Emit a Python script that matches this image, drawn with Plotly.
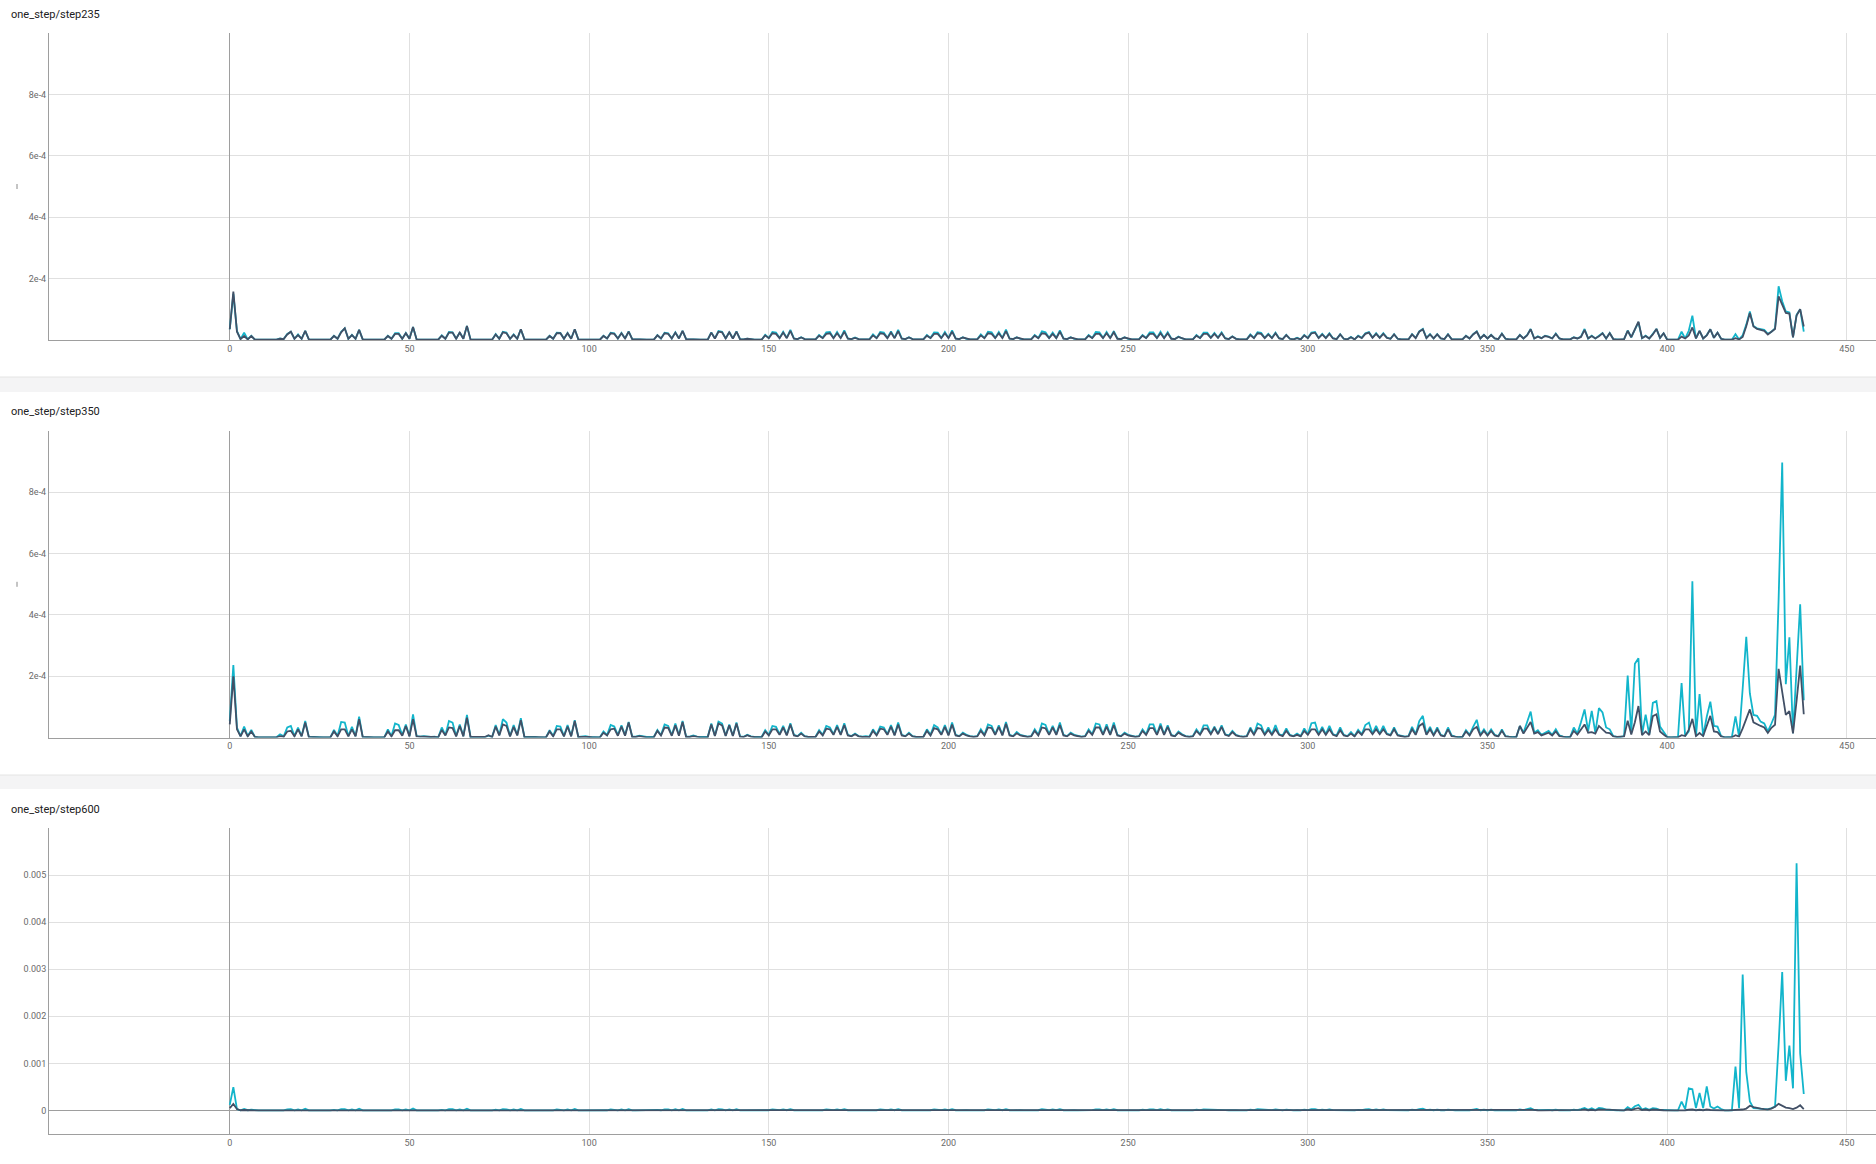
import numpy as np
import plotly.graph_objects as go

W, H = 1876, 1164

# ---------------- data (values in units of 1e-5) ----------------
steps = list(range(439))
titles = ["one_step/step235", "one_step/step350", "one_step/step600"]
x_ticks = [0, 50, 100, 150, 200, 250, 300, 350, 400, 450]

step235_cyan = [
    3.5, 15.0, 3.0, 0.3, 2.4, 0.2, 1.4, 0.1, 0.1, 0.1, 0.1, 0.1, 0.1, 0.1,
    0.5, 0.3, 2.0, 2.7, 0.4, 1.8, 0.4, 3.0, 0.2, 0.1, 0.1, 0.1, 0.1, 0.1, 0.1,
    1.4, 0.4, 2.7, 3.8, 0.4, 1.7, 0.4, 3.3, 0.2, 0.1, 0.1, 0.1, 0.1, 0.1, 0.1,
    1.4, 0.4, 2.2, 2.2, 0.4, 2.3, 0.4, 4.2, 0.2, 0.1, 0.2, 0.1, 0.1, 0.1, 0.1,
    1.5, 0.4, 2.6, 2.5, 0.4, 2.5, 0.4, 4.6, 0.2, 0.1, 0.2, 0.1, 0.1, 0.1, 0.1,
    1.9, 0.4, 2.7, 2.4, 0.4, 1.8, 0.4, 3.5, 0.2, 0.1, 0.2, 0.1, 0.1, 0.1, 0.1,
    1.4, 0.4, 2.4, 2.3, 0.4, 2.3, 0.4, 3.5, 0.2, 0.1, 0.2, 0.1, 0.1, 0.1, 0.1,
    1.4, 0.5, 2.4, 2.2, 0.5, 2.3, 0.5, 2.8, 0.3, 0.2, 0.3, 0.2, 0.1, 0.1, 0.1,
    1.6, 0.5, 2.4, 2.2, 0.5, 2.5, 0.5, 3.0, 0.3, 0.2, 0.3, 0.2, 0.1, 0.1, 0.1,
    2.5, 0.5, 2.9, 2.7, 0.5, 2.6, 0.5, 2.8, 0.3, 0.2, 0.4, 0.2, 0.1, 0.1, 0.1,
    1.7, 0.7, 2.6, 2.4, 0.7, 2.7, 0.7, 3.3, 0.5, 0.3, 0.9, 0.3, 0.2, 0.2, 0.2,
    1.6, 0.7, 2.5, 2.6, 0.7, 2.6, 0.7, 3.1, 0.5, 0.3, 0.8, 0.3, 0.2, 0.2, 0.2,
    1.8, 0.7, 2.6, 2.4, 0.7, 2.8, 0.7, 3.3, 0.5, 0.3, 0.9, 0.3, 0.2, 0.2, 0.2,
    1.6, 0.7, 2.5, 2.4, 0.7, 2.6, 0.7, 3.1, 0.5, 0.3, 0.9, 0.4, 0.2, 0.2, 0.2,
    1.8, 0.7, 2.7, 2.5, 0.7, 2.6, 0.7, 3.4, 0.5, 0.3, 0.9, 0.4, 0.2, 0.2, 0.2,
    1.6, 0.7, 2.8, 2.5, 0.7, 2.4, 0.7, 3.1, 0.5, 0.3, 0.9, 0.4, 0.2, 0.2, 0.2,
    1.6, 0.7, 2.6, 2.5, 0.7, 2.6, 0.7, 2.9, 0.5, 0.3, 0.9, 0.4, 0.2, 0.2, 0.2,
    1.6, 0.7, 2.5, 2.5, 0.7, 2.7, 0.7, 2.5, 0.5, 0.3, 1.1, 0.5, 0.2, 0.2, 0.2,
    1.6, 0.7, 2.4, 2.4, 0.8, 2.3, 0.8, 2.5, 0.6, 0.3, 1.2, 0.4, 0.2, 0.2, 0.2,
    1.8, 0.7, 2.5, 2.3, 0.7, 2.0, 0.7, 2.4, 0.6, 0.3, 1.7, 0.4, 0.2, 0.7, 0.2,
    1.6, 0.7, 2.4, 2.6, 0.7, 2.0, 0.7, 2.2, 0.6, 0.3, 1.9, 0.4, 0.2, 1.0, 0.2,
    1.4, 0.7, 2.2, 2.6, 0.8, 2.2, 0.8, 2.2, 0.8, 0.4, 1.9, 0.4, 0.2, 0.2, 0.2,
    1.9, 0.7, 2.8, 3.6, 0.7, 1.9, 0.5, 1.9, 0.5, 0.3, 1.9, 0.3, 0.2, 0.1, 0.2,
    1.4, 0.5, 1.9, 2.8, 0.5, 1.7, 0.5, 1.7, 0.5, 0.3, 2.1, 0.4, 0.2, 0.1, 0.2,
    1.7, 0.5, 1.6, 3.6, 0.5, 1.2, 0.6, 1.4, 1.1, 0.5, 2.1, 0.5, 0.2, 0.1, 0.2,
    0.9, 0.5, 1.1, 3.6, 0.5, 1.4, 0.5, 1.3, 2.3, 0.5, 2.3, 0.3, 0.1, 0.1, 0.3,
    3.1, 0.9, 3.5, 5.8, 0.6, 1.4, 0.5, 1.9, 3.6, 0.7, 2.2, 0.1, 0.1, 0.1, 0.1,
    2.7, 0.5, 3.0, 7.9, 0.5, 3.0, 0.5, 1.6, 3.5, 0.7, 2.4, 0.4, 0.1, 0.1, 0.1,
    1.9, 0.2, 1.5, 5.0, 9.3, 4.6, 3.8, 3.5, 3.3, 2.0, 2.7, 3.8, 17.5, 12.6, 9.3,
    9.0, 0.9, 8.2, 10.0, 2.7,
]

step235_dark = [
    3.5, 15.8, 2.7, 0.3, 1.3, 0.2, 1.3, 0.1, 0.1, 0.1, 0.1, 0.1, 0.1, 0.1,
    0.4, 0.3, 1.8, 2.7, 0.4, 1.6, 0.4, 3.0, 0.2, 0.1, 0.1, 0.1, 0.1, 0.1, 0.1,
    1.3, 0.4, 2.5, 3.8, 0.4, 1.6, 0.4, 3.3, 0.2, 0.1, 0.1, 0.1, 0.1, 0.1, 0.1,
    1.3, 0.4, 2.0, 2.0, 0.4, 2.2, 0.4, 4.2, 0.2, 0.1, 0.2, 0.1, 0.1, 0.1, 0.1,
    1.4, 0.4, 2.4, 2.4, 0.4, 2.4, 0.4, 4.6, 0.2, 0.1, 0.2, 0.1, 0.1, 0.1, 0.1,
    1.8, 0.4, 2.5, 2.2, 0.4, 1.7, 0.4, 3.5, 0.2, 0.1, 0.2, 0.1, 0.1, 0.1, 0.1,
    1.3, 0.4, 2.2, 2.2, 0.4, 2.2, 0.4, 3.5, 0.2, 0.1, 0.2, 0.1, 0.1, 0.1, 0.1,
    1.3, 0.5, 2.2, 2.0, 0.5, 2.2, 0.5, 2.7, 0.3, 0.2, 0.3, 0.2, 0.1, 0.1, 0.1,
    1.5, 0.5, 2.2, 2.0, 0.5, 2.4, 0.5, 3.0, 0.3, 0.2, 0.3, 0.2, 0.1, 0.1, 0.1,
    2.4, 0.5, 2.7, 2.5, 0.5, 2.5, 0.5, 2.7, 0.3, 0.2, 0.4, 0.2, 0.1, 0.1, 0.1,
    1.5, 0.6, 2.2, 2.0, 0.6, 2.4, 0.6, 3.0, 0.4, 0.3, 0.8, 0.3, 0.2, 0.2, 0.2,
    1.4, 0.6, 2.0, 2.2, 0.6, 2.2, 0.6, 2.7, 0.4, 0.3, 0.7, 0.3, 0.2, 0.2, 0.2,
    1.5, 0.6, 2.2, 2.0, 0.6, 2.4, 0.6, 2.9, 0.4, 0.3, 0.8, 0.3, 0.2, 0.2, 0.2,
    1.4, 0.6, 2.0, 2.0, 0.6, 2.2, 0.6, 2.7, 0.4, 0.3, 0.8, 0.4, 0.2, 0.2, 0.2,
    1.5, 0.6, 2.2, 2.0, 0.6, 2.2, 0.6, 2.9, 0.4, 0.3, 0.8, 0.4, 0.2, 0.2, 0.2,
    1.4, 0.6, 2.2, 2.0, 0.6, 2.0, 0.6, 2.7, 0.4, 0.3, 0.8, 0.4, 0.2, 0.2, 0.2,
    1.4, 0.6, 2.0, 2.0, 0.6, 2.2, 0.6, 2.5, 0.4, 0.3, 0.8, 0.4, 0.2, 0.2, 0.2,
    1.4, 0.6, 2.0, 2.0, 0.6, 2.2, 0.6, 2.2, 0.4, 0.3, 1.0, 0.5, 0.2, 0.2, 0.2,
    1.4, 0.6, 2.0, 2.0, 0.7, 2.0, 0.7, 2.2, 0.5, 0.3, 1.1, 0.4, 0.2, 0.2, 0.2,
    1.6, 0.6, 2.2, 2.0, 0.6, 1.8, 0.6, 2.2, 0.5, 0.3, 1.6, 0.4, 0.2, 0.6, 0.2,
    1.5, 0.6, 2.2, 2.4, 0.6, 1.8, 0.6, 2.0, 0.5, 0.3, 1.8, 0.4, 0.2, 0.9, 0.2,
    1.3, 0.6, 2.0, 2.4, 0.7, 2.0, 0.7, 2.0, 0.7, 0.4, 1.8, 0.4, 0.2, 0.2, 0.2,
    1.8, 0.6, 2.7, 3.5, 0.6, 1.8, 0.5, 1.8, 0.5, 0.3, 1.8, 0.3, 0.2, 0.1, 0.2,
    1.3, 0.5, 1.8, 2.7, 0.5, 1.6, 0.5, 1.6, 0.5, 0.3, 2.0, 0.4, 0.2, 0.1, 0.2,
    1.6, 0.5, 1.5, 3.5, 0.5, 1.1, 0.6, 1.3, 1.0, 0.5, 2.0, 0.5, 0.2, 0.1, 0.2,
    0.8, 0.5, 1.0, 3.3, 0.5, 1.3, 0.5, 1.2, 2.2, 0.5, 2.2, 0.3, 0.1, 0.1, 0.3,
    3.0, 0.9, 3.5, 6.0, 0.6, 1.3, 0.5, 1.8, 3.6, 0.7, 2.2, 0.1, 0.1, 0.1, 0.1,
    1.1, 0.5, 1.5, 4.1, 0.5, 3.0, 0.5, 1.5, 3.5, 0.7, 2.4, 0.4, 0.1, 0.1, 0.1,
    0.6, 0.2, 1.0, 4.5, 8.8, 4.4, 3.6, 3.3, 3.0, 1.8, 2.6, 3.6, 14.2, 11.5, 8.8,
    8.6, 0.9, 8.0, 10.0, 4.4,
]

step350_cyan = [
    5.4, 23.7, 3.3, 0.5, 3.6, 0.5, 2.5, 0.2, 0.1, 0.1, 0.1, 0.1, 0.1, 0.1,
    1.1, 0.4, 3.3, 3.8, 0.5, 3.3, 0.5, 5.4, 0.3, 0.2, 0.2, 0.1, 0.1, 0.1, 0.1,
    2.5, 0.5, 5.1, 4.9, 0.5, 3.5, 0.5, 6.8, 0.2, 0.1, 0.2, 0.1, 0.1, 0.1, 0.1,
    2.7, 0.5, 4.6, 4.1, 0.8, 4.3, 0.5, 7.6, 0.5, 0.3, 0.5, 0.3, 0.2, 0.3, 0.1,
    3.3, 0.8, 5.4, 4.9, 0.5, 4.3, 0.5, 7.4, 0.2, 0.2, 0.4, 0.3, 0.2, 0.6, 0.2,
    4.1, 0.8, 6.0, 4.9, 0.5, 4.1, 0.8, 6.3, 0.2, 0.2, 0.4, 0.2, 0.1, 0.2, 0.1,
    2.4, 0.5, 3.8, 3.6, 0.5, 4.1, 0.5, 5.7, 0.2, 0.3, 0.5, 0.2, 0.1, 0.2, 0.1,
    2.0, 0.8, 4.1, 3.6, 0.8, 4.0, 0.8, 5.1, 0.3, 0.3, 0.6, 0.3, 0.2, 0.2, 0.2,
    2.5, 0.8, 4.3, 3.8, 0.8, 4.6, 0.8, 5.4, 0.3, 0.3, 0.7, 0.3, 0.2, 0.2, 0.2,
    4.6, 0.6, 5.2, 4.6, 0.6, 4.3, 0.6, 4.9, 0.4, 0.3, 0.9, 0.4, 0.2, 0.3, 0.2,
    2.4, 0.9, 3.8, 3.5, 1.1, 3.8, 0.9, 4.7, 0.9, 0.5, 1.6, 0.5, 0.2, 0.2, 0.3,
    2.4, 0.9, 3.8, 3.3, 1.1, 4.1, 1.1, 4.7, 0.9, 0.5, 1.3, 0.5, 0.3, 0.5, 0.3,
    2.7, 0.9, 3.6, 3.3, 1.1, 4.1, 0.9, 4.9, 0.9, 0.5, 1.6, 0.5, 0.2, 0.2, 0.3,
    2.7, 0.9, 4.1, 3.3, 1.1, 4.1, 0.9, 4.9, 0.9, 0.5, 1.6, 0.9, 0.5, 0.3, 0.5,
    2.7, 0.9, 4.3, 3.8, 1.1, 4.0, 0.9, 5.1, 0.9, 0.5, 1.8, 0.9, 0.5, 0.3, 0.5,
    2.7, 0.9, 4.6, 4.1, 1.1, 3.8, 1.1, 4.9, 0.9, 0.5, 1.6, 0.9, 0.5, 0.3, 0.5,
    2.7, 1.1, 4.6, 4.3, 1.1, 4.3, 1.1, 4.9, 0.9, 0.5, 1.6, 0.9, 0.5, 0.3, 0.5,
    2.7, 1.1, 4.3, 4.3, 1.1, 4.6, 1.1, 4.0, 0.9, 0.5, 2.0, 1.1, 0.5, 0.3, 0.5,
    2.7, 1.1, 4.0, 4.0, 1.3, 3.6, 1.3, 4.0, 1.1, 0.7, 2.2, 0.9, 0.5, 0.3, 0.5,
    3.3, 1.1, 4.6, 4.0, 1.1, 3.3, 1.1, 4.1, 1.1, 0.7, 3.0, 0.9, 0.5, 1.3, 0.5,
    3.0, 1.1, 4.7, 4.9, 1.1, 3.5, 1.1, 3.8, 1.1, 0.7, 3.3, 0.9, 0.5, 1.8, 0.5,
    2.5, 1.1, 4.1, 4.9, 1.3, 3.8, 1.3, 3.8, 1.3, 0.9, 3.3, 0.9, 0.5, 0.3, 0.5,
    3.5, 1.1, 5.4, 7.1, 1.1, 3.5, 0.9, 3.3, 0.9, 0.5, 3.3, 0.7, 0.3, 0.2, 0.2,
    2.4, 0.9, 3.5, 5.8, 0.9, 2.7, 0.9, 2.7, 0.9, 0.5, 2.7, 0.5, 0.3, 0.2, 0.2,
    3.8, 1.6, 5.0, 8.5, 1.6, 2.4, 0.9, 1.5, 2.2, 0.9, 2.7, 0.7, 0.3, 0.2, 0.2,
    3.3, 1.3, 5.0, 9.2, 2.2, 8.7, 1.6, 9.6, 8.2, 3.3, 2.7, 0.5, 0.2, 0.2, 0.5,
    20.2, 1.5, 24.1, 25.9, 1.0, 7.5, 1.0, 11.3, 11.9, 3.6, 2.0, 0.2, 0.1, 0.1, 0.2,
    17.8, 0.5, 2.0, 51.0, 0.5, 14.2, 0.5, 6.8, 11.7, 3.8, 3.6, 0.5, 0.1, 0.1, 0.2,
    6.9, 0.3, 16.0, 32.9, 14.4, 7.4, 7.1, 5.2, 4.6, 2.0, 4.6, 7.4, 45.0, 89.7, 17.4,
    32.7, 1.4, 22.0, 43.5, 12.2,
]

step350_dark = [
    4.3, 20.0, 2.7, 0.4, 2.7, 0.4, 2.0, 0.2, 0.1, 0.1, 0.1, 0.1, 0.1, 0.1,
    0.5, 0.3, 2.0, 2.2, 0.4, 2.7, 0.4, 4.9, 0.2, 0.1, 0.1, 0.1, 0.1, 0.1, 0.1,
    2.0, 0.4, 2.7, 2.7, 0.4, 2.7, 0.4, 6.0, 0.2, 0.1, 0.1, 0.1, 0.1, 0.1, 0.1,
    2.0, 0.4, 2.4, 2.4, 0.6, 3.8, 0.4, 6.0, 0.4, 0.3, 0.4, 0.2, 0.2, 0.2, 0.1,
    2.5, 0.7, 3.3, 3.1, 0.4, 3.8, 0.4, 6.5, 0.2, 0.2, 0.3, 0.3, 0.2, 0.8, 0.2,
    3.6, 0.7, 4.3, 3.8, 0.4, 3.5, 0.7, 5.7, 0.2, 0.2, 0.3, 0.2, 0.1, 0.2, 0.1,
    2.0, 0.4, 2.7, 2.7, 0.4, 3.6, 0.4, 5.4, 0.2, 0.2, 0.4, 0.2, 0.1, 0.1, 0.1,
    1.6, 0.7, 2.7, 2.9, 0.6, 3.6, 0.6, 4.9, 0.2, 0.2, 0.5, 0.2, 0.1, 0.1, 0.1,
    2.2, 0.7, 3.3, 3.2, 0.6, 4.0, 0.6, 5.1, 0.2, 0.2, 0.5, 0.2, 0.1, 0.1, 0.1,
    4.3, 0.5, 4.6, 4.0, 0.5, 4.0, 0.5, 4.6, 0.3, 0.2, 0.8, 0.3, 0.2, 0.2, 0.1,
    2.0, 0.7, 2.7, 2.7, 0.9, 3.3, 0.7, 4.3, 0.7, 0.4, 1.3, 0.4, 0.2, 0.2, 0.2,
    2.0, 0.7, 2.9, 2.7, 0.9, 3.5, 0.9, 4.1, 0.7, 0.4, 1.1, 0.4, 0.2, 0.3, 0.2,
    2.2, 0.7, 2.9, 2.7, 0.9, 3.6, 0.7, 4.3, 0.7, 0.4, 1.3, 0.4, 0.2, 0.2, 0.2,
    2.2, 0.7, 3.1, 2.7, 0.9, 3.5, 0.7, 4.3, 0.7, 0.4, 1.3, 0.7, 0.4, 0.2, 0.4,
    2.2, 0.7, 3.3, 3.1, 0.9, 3.5, 0.7, 4.5, 0.7, 0.4, 1.4, 0.7, 0.4, 0.2, 0.4,
    2.2, 0.7, 3.3, 3.0, 0.9, 3.3, 0.9, 4.1, 0.7, 0.4, 1.3, 0.7, 0.4, 0.2, 0.4,
    2.2, 0.9, 3.3, 3.3, 0.9, 3.6, 0.9, 4.1, 0.7, 0.4, 1.3, 0.7, 0.4, 0.2, 0.4,
    2.2, 0.9, 3.1, 3.1, 0.9, 3.8, 0.9, 3.5, 0.7, 0.4, 1.6, 0.9, 0.4, 0.2, 0.4,
    2.2, 0.9, 2.9, 2.9, 1.1, 3.1, 1.1, 3.5, 0.9, 0.5, 1.8, 0.7, 0.4, 0.2, 0.4,
    2.7, 0.9, 3.1, 2.9, 0.9, 2.5, 0.9, 2.7, 0.9, 0.5, 2.2, 0.7, 0.4, 0.9, 0.4,
    2.2, 0.9, 2.7, 2.7, 0.9, 2.7, 0.9, 2.7, 0.9, 0.5, 2.4, 0.7, 0.4, 1.3, 0.4,
    2.0, 0.9, 2.7, 2.7, 1.1, 2.7, 1.1, 2.7, 1.1, 0.7, 2.7, 0.7, 0.4, 0.2, 0.4,
    2.7, 0.9, 3.8, 4.6, 0.9, 2.7, 0.7, 2.7, 0.7, 0.4, 2.7, 0.5, 0.2, 0.1, 0.2,
    2.0, 0.7, 2.7, 3.5, 0.7, 2.2, 0.7, 2.2, 0.7, 0.4, 2.2, 0.4, 0.2, 0.1, 0.2,
    3.8, 1.3, 3.2, 5.1, 1.3, 1.8, 0.7, 1.2, 1.6, 0.7, 2.0, 0.5, 0.2, 0.1, 0.2,
    2.2, 1.0, 2.7, 4.3, 1.6, 1.8, 1.3, 3.8, 2.7, 1.6, 1.5, 0.4, 0.2, 0.2, 0.4,
    5.5, 1.0, 5.0, 10.3, 0.8, 2.0, 0.8, 7.0, 7.6, 2.0, 1.0, 0.1, 0.1, 0.1, 0.1,
    0.8, 0.5, 2.5, 6.1, 0.5, 1.5, 0.5, 3.5, 7.1, 2.0, 1.8, 0.4, 0.1, 0.1, 0.1,
    0.8, 0.3, 3.0, 6.0, 9.2, 5.0, 4.3, 3.8, 3.3, 1.5, 3.2, 4.2, 22.4, 15.0, 7.4,
    8.6, 1.4, 12.0, 23.5, 7.6,
]

step600_cyan = [
    12.0, 49.5, 3.0, 0.5, 3.0, 0.5, 1.5, 0.3, 0.2, 0.2, 0.2, 0.2, 0.2, 0.2,
    1.0, 0.3, 2.5, 3.0, 0.3, 2.0, 0.3, 3.5, 0.2, 0.1, 0.3, 0.1, 0.1, 0.1, 0.1,
    1.2, 0.3, 2.8, 2.6, 0.3, 2.2, 0.3, 3.8, 0.2, 0.1, 0.3, 0.1, 0.1, 0.1, 0.1,
    1.1, 0.3, 2.4, 2.2, 0.3, 2.4, 0.3, 4.0, 0.2, 0.1, 0.3, 0.1, 0.1, 0.1, 0.1,
    1.3, 0.3, 2.9, 2.6, 0.3, 2.3, 0.3, 3.6, 0.2, 0.1, 0.3, 0.1, 0.1, 0.2, 0.1,
    1.6, 0.3, 3.0, 2.5, 0.3, 2.0, 0.3, 3.2, 0.2, 0.1, 0.3, 0.1, 0.1, 0.1, 0.1,
    1.0, 0.3, 2.2, 2.0, 0.3, 2.2, 0.3, 3.0, 0.2, 0.1, 0.3, 0.1, 0.1, 0.1, 0.1,
    1.0, 0.4, 2.3, 2.0, 0.4, 2.2, 0.4, 2.8, 0.2, 0.1, 0.4, 0.2, 0.1, 0.1, 0.1,
    1.2, 0.4, 2.4, 2.1, 0.4, 2.5, 0.4, 3.0, 0.2, 0.1, 0.4, 0.2, 0.1, 0.1, 0.1,
    2.2, 0.4, 2.7, 2.4, 0.4, 2.3, 0.4, 2.6, 0.2, 0.2, 0.5, 0.2, 0.1, 0.1, 0.1,
    1.3, 0.5, 2.1, 1.9, 0.6, 2.1, 0.5, 2.6, 0.5, 0.3, 0.9, 0.3, 0.1, 0.1, 0.2,
    1.3, 0.5, 2.1, 1.8, 0.6, 2.3, 0.6, 2.6, 0.5, 0.3, 0.7, 0.3, 0.2, 0.3, 0.2,
    1.5, 0.5, 2.0, 1.8, 0.6, 2.3, 0.5, 2.7, 0.5, 0.3, 0.9, 0.3, 0.1, 0.1, 0.2,
    1.5, 0.5, 2.3, 1.8, 0.6, 2.3, 0.5, 2.7, 0.5, 0.3, 0.9, 0.5, 0.3, 0.2, 0.3,
    1.5, 0.5, 2.4, 2.1, 0.6, 2.2, 0.5, 2.8, 0.5, 0.3, 1.0, 0.5, 0.3, 0.2, 0.3,
    1.5, 0.5, 2.5, 2.3, 0.6, 2.1, 0.6, 2.7, 0.5, 0.3, 0.9, 0.5, 0.3, 0.2, 0.3,
    1.5, 0.6, 2.5, 2.4, 0.6, 2.4, 0.6, 2.7, 0.5, 0.3, 0.9, 0.5, 0.3, 0.2, 0.3,
    1.5, 0.6, 2.4, 2.4, 0.6, 2.5, 0.6, 2.2, 0.5, 0.3, 1.1, 0.6, 0.3, 0.2, 0.3,
    1.5, 0.6, 2.2, 2.2, 0.7, 2.0, 0.7, 2.2, 0.6, 0.4, 1.2, 0.5, 0.3, 0.2, 0.3,
    1.8, 0.6, 2.5, 2.2, 0.6, 1.8, 0.6, 2.3, 0.6, 0.4, 1.7, 0.5, 0.3, 0.7, 0.3,
    1.7, 0.6, 2.6, 2.7, 0.6, 1.9, 0.6, 2.1, 0.6, 0.4, 1.8, 0.5, 0.3, 1.0, 0.3,
    1.4, 0.6, 2.3, 2.7, 0.7, 2.1, 0.7, 2.1, 0.7, 0.5, 1.8, 0.5, 0.3, 0.2, 0.3,
    1.9, 0.6, 3.0, 3.9, 0.6, 1.9, 0.5, 1.8, 0.5, 0.3, 1.8, 0.4, 0.2, 0.1, 0.1,
    1.3, 0.5, 1.9, 3.2, 0.5, 1.5, 0.5, 1.5, 0.5, 0.3, 1.5, 0.3, 0.2, 0.1, 0.1,
    2.1, 0.9, 2.8, 4.7, 0.9, 1.3, 0.5, 0.8, 1.2, 0.5, 1.5, 0.4, 0.2, 0.1, 0.1,
    1.8, 0.7, 2.8, 5.1, 1.2, 4.8, 0.9, 5.3, 4.5, 1.8, 1.5, 0.3, 0.1, 0.1, 0.3,
    7.2, 2.0, 9.0, 12.0, 2.0, 5.0, 1.5, 5.0, 4.0, 1.0, 1.0, 0.3, 0.3, 0.3, 0.3,
    19.0, 2.8, 47.0, 45.0, 5.0, 37.0, 5.0, 51.0, 8.5, 4.0, 8.5, 3.0, 0.2, 0.2, 0.2,
    93.0, 5.0, 289.0, 82.0, 19.0, 5.0, 4.5, 4.0, 3.0, 2.5, 5.0, 8.0, 140.0, 294.0, 63.0,
    138.0, 47.0, 525.0, 121.0, 35.0,
]

step600_dark = [
    5.0, 14.0, 3.0, 0.5, 1.0, 0.3, 0.5, 0.2, 0.1, 0.1, 0.1, 0.1, 0.1, 0.1,
    0.4, 0.2, 1.0, 1.2, 0.2, 0.8, 0.2, 1.5, 0.1, 0.1, 0.2, 0.1, 0.1, 0.1, 0.1,
    0.5, 0.2, 1.1, 1.0, 0.2, 0.9, 0.2, 1.6, 0.1, 0.1, 0.2, 0.1, 0.1, 0.1, 0.1,
    0.5, 0.2, 1.0, 0.9, 0.2, 1.0, 0.2, 1.7, 0.1, 0.1, 0.2, 0.1, 0.1, 0.1, 0.1,
    0.5, 0.2, 1.2, 1.1, 0.2, 1.0, 0.2, 1.5, 0.1, 0.1, 0.2, 0.1, 0.1, 0.1, 0.1,
    0.7, 0.2, 1.2, 1.0, 0.2, 0.8, 0.2, 1.3, 0.1, 0.1, 0.2, 0.1, 0.1, 0.1, 0.1,
    0.4, 0.2, 0.9, 0.8, 0.2, 0.9, 0.2, 1.2, 0.1, 0.1, 0.2, 0.1, 0.1, 0.1, 0.1,
    0.4, 0.2, 0.9, 0.8, 0.2, 0.9, 0.2, 1.1, 0.1, 0.1, 0.2, 0.1, 0.1, 0.1, 0.1,
    0.5, 0.2, 1.0, 0.9, 0.2, 1.0, 0.2, 1.2, 0.1, 0.1, 0.2, 0.1, 0.1, 0.1, 0.1,
    0.9, 0.2, 1.1, 1.0, 0.2, 0.9, 0.2, 1.1, 0.1, 0.1, 0.2, 0.1, 0.1, 0.1, 0.1,
    0.5, 0.2, 0.9, 0.8, 0.2, 0.9, 0.2, 1.1, 0.2, 0.1, 0.4, 0.1, 0.1, 0.1, 0.1,
    0.5, 0.2, 0.9, 0.8, 0.2, 1.0, 0.2, 1.1, 0.2, 0.1, 0.3, 0.1, 0.1, 0.1, 0.1,
    0.6, 0.2, 0.8, 0.8, 0.2, 1.0, 0.2, 1.1, 0.2, 0.1, 0.4, 0.1, 0.1, 0.1, 0.1,
    0.6, 0.2, 0.9, 0.8, 0.2, 1.0, 0.2, 1.1, 0.2, 0.1, 0.4, 0.2, 0.1, 0.1, 0.1,
    0.6, 0.2, 1.0, 0.9, 0.2, 0.9, 0.2, 1.2, 0.2, 0.1, 0.4, 0.2, 0.1, 0.1, 0.1,
    0.6, 0.2, 1.0, 0.9, 0.2, 0.9, 0.2, 1.1, 0.2, 0.1, 0.4, 0.2, 0.1, 0.1, 0.1,
    0.6, 0.2, 1.0, 1.0, 0.2, 1.0, 0.2, 1.1, 0.2, 0.1, 0.4, 0.2, 0.1, 0.1, 0.1,
    0.6, 0.2, 1.0, 1.0, 0.2, 1.0, 0.2, 0.9, 0.2, 0.1, 0.5, 0.2, 0.1, 0.1, 0.1,
    0.6, 0.2, 0.9, 0.9, 0.3, 0.8, 0.3, 0.9, 0.2, 0.1, 0.5, 0.2, 0.1, 0.1, 0.1,
    0.7, 0.2, 1.0, 0.9, 0.2, 0.7, 0.2, 0.9, 0.2, 0.1, 0.7, 0.2, 0.1, 0.3, 0.1,
    0.7, 0.2, 1.0, 1.1, 0.2, 0.8, 0.2, 0.8, 0.2, 0.1, 0.7, 0.2, 0.1, 0.4, 0.1,
    0.6, 0.2, 0.9, 1.1, 0.3, 0.8, 0.3, 0.8, 0.3, 0.2, 0.7, 0.2, 0.1, 0.1, 0.1,
    0.8, 0.2, 1.2, 1.6, 0.2, 0.8, 0.2, 0.7, 0.2, 0.1, 0.7, 0.2, 0.1, 0.1, 0.1,
    0.5, 0.2, 0.8, 1.3, 0.2, 0.6, 0.2, 0.6, 0.2, 0.1, 0.6, 0.1, 0.1, 0.1, 0.1,
    0.9, 0.4, 1.1, 1.9, 0.4, 0.5, 0.2, 0.3, 0.5, 0.2, 0.6, 0.2, 0.1, 0.1, 0.1,
    0.7, 0.3, 1.1, 2.1, 0.5, 1.5, 0.4, 2.2, 1.8, 0.7, 0.6, 0.1, 0.1, 0.1, 0.1,
    2.5, 1.0, 3.5, 5.0, 1.0, 2.0, 0.5, 2.0, 1.5, 0.5, 0.5, 0.2, 0.1, 0.1, 0.2,
    1.0, 0.5, 1.5, 2.0, 0.5, 1.5, 0.5, 2.0, 1.0, 0.5, 1.5, 0.5, 0.1, 0.1, 0.2,
    0.5, 0.5, 2.0, 4.0, 10.0, 7.0, 5.0, 4.0, 3.0, 2.5, 4.0, 8.0, 14.0, 10.0, 6.0,
    5.0, 3.0, 6.0, 11.0, 3.0,
]

y_ticks_small = [0, 2e-4, 4e-4, 6e-4, 8e-4, 1e-3]
y_labels_small = ["", "2e-4", "4e-4", "6e-4", "8e-4", ""]
y_ticks_big = [0, 0.001, 0.002, 0.003, 0.004, 0.005, 0.006]
y_labels_big = ["0", "0.001", "0.002", "0.003", "0.004", "0.005", ""]

CYAN = "#12b5cb"
DARK = "#425066"
SCALE = 1e-5

series = [
    (step235_cyan, step235_dark),
    (step350_cyan, step350_dark),
    (step600_cyan, step600_dark),
]
for c, d in series:
    assert len(c) == len(steps), len(c)
    assert len(d) == len(steps), len(d)

# ---------------- layout geometry (pixels) ----------------
tops = [33, 431, 828]
bottoms = [340, 737.6, 1134]
title_y = [14.5, 411, 809.5]
yranges = [[0, 1e-3], [0, 1e-3], [-0.0005, 0.006]]
x_left_px = 49
bands = [(377, 392), (775, 789)]

fig = go.Figure()
for i, (c, d) in enumerate(series, start=1):
    xa = "x" if i == 1 else f"x{i}"
    ya = "y" if i == 1 else f"y{i}"
    fig.add_trace(go.Scatter(x=steps, y=np.array(c) * SCALE, mode="lines",
                             line=dict(color=CYAN, width=1.8),
                             xaxis=xa, yaxis=ya, hoverinfo="skip"))
    fig.add_trace(go.Scatter(x=steps, y=np.array(d) * SCALE, mode="lines",
                             line=dict(color=DARK, width=1.8),
                             xaxis=xa, yaxis=ya, hoverinfo="skip"))

layout = dict(
    width=W, height=H, autosize=False,
    margin=dict(l=0, r=0, t=0, b=0),
    paper_bgcolor="white", plot_bgcolor="white",
    showlegend=False,
    font=dict(family="Roboto, Arial, sans-serif", color="#616161"),
)

annotations = []
shapes = []
for i in range(3):
    k = "" if i == 0 else str(i + 1)
    ydom = [1 - bottoms[i] / H, 1 - tops[i] / H]
    layout["xaxis" + k] = dict(
        domain=[x_left_px / W, 1.0], anchor="y" + k,
        range=[-50.3, 458.1], tickmode="array", tickvals=x_ticks,
        ticktext=[str(v) for v in x_ticks],
        showgrid=True, gridcolor="#e0e0e0", gridwidth=1,
        zeroline=True, zerolinecolor="#9e9e9e", zerolinewidth=1,
        showline=True, linecolor="#9e9e9e", linewidth=1,
        ticks="", tickfont=dict(size=9, color="#6a6a6a"),
        fixedrange=True,
    )
    if i < 2:
        tv, tt = y_ticks_small, y_labels_small
    else:
        tv, tt = y_ticks_big, y_labels_big
    layout["yaxis" + k] = dict(
        domain=ydom, anchor="x" + k, range=yranges[i],
        tickmode="array", tickvals=tv, ticktext=tt,
        showgrid=True, gridcolor="#e0e0e0", gridwidth=1,
        zeroline=True, zerolinecolor="#9e9e9e", zerolinewidth=1,
        showline=True, linecolor="#9e9e9e", linewidth=1,
        ticks="", tickfont=dict(size=9, color="#6a6a6a"),
        fixedrange=True,
    )
    annotations.append(dict(
        text=titles[i], xref="paper", yref="paper",
        x=9 / W, y=1 - title_y[i] / H, xanchor="left", yanchor="middle",
        showarrow=False, font=dict(size=11, color="#212121"),
    ))

# tiny rotated y-axis title marks seen in the first two panels
for i in range(2):
    cy = (tops[i] + bottoms[i]) / 2
    shapes.append(dict(type="line", xref="paper", yref="paper",
                       x0=17 / W, x1=17 / W,
                       y0=1 - (cy + 2.5) / H, y1=1 - (cy - 2.5) / H,
                       line=dict(color="#8a8a8a", width=1)))

for (a, b) in bands:
    shapes.append(dict(type="rect", xref="paper", yref="paper",
                       x0=0, x1=1, y0=1 - b / H, y1=1 - a / H,
                       fillcolor="#f4f4f5", line=dict(width=0), layer="below"))
    shapes.append(dict(type="line", xref="paper", yref="paper",
                       x0=0, x1=1, y0=1 - a / H, y1=1 - a / H,
                       line=dict(color="#e4e4e4", width=1)))

layout["annotations"] = annotations
layout["shapes"] = shapes
fig.update_layout(**layout)

fig.write_html(
    "out.html",
    config={"displayModeBar": False},
    post_script=(
        "document.body.style.margin='0';"
        "document.body.style.padding='0';"
        "document.body.style.overflow='hidden';"
        "document.documentElement.style.overflow='hidden';"
    ),
)
